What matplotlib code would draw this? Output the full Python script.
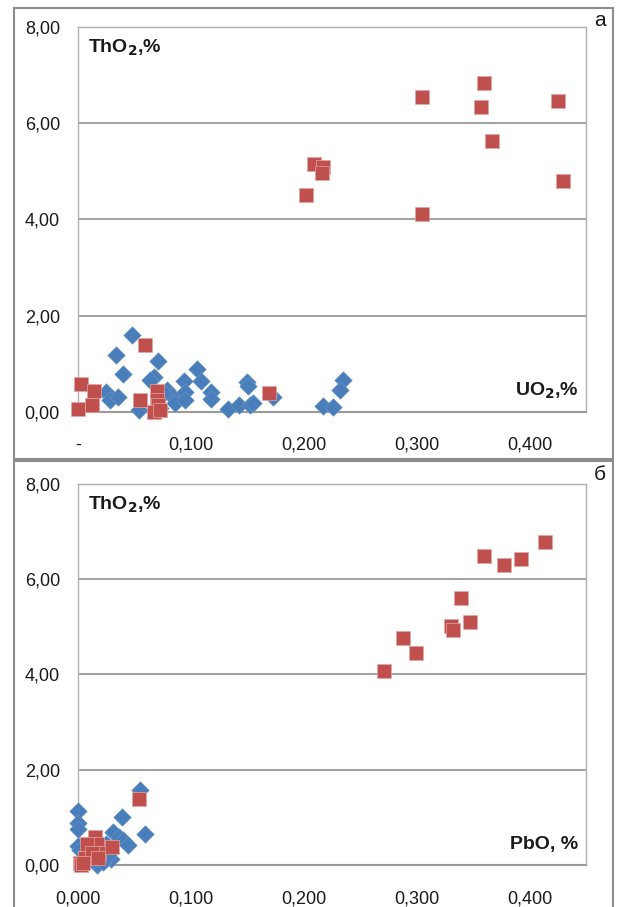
import numpy as np
import matplotlib.pyplot as plt
from matplotlib.patches import Rectangle

plt.rcParams['font.family'] = ['Liberation Sans', 'DejaVu Sans']

# panel а: UO2 vs ThO2
uo2_blue = [0.048, 0.034, 0.071, 0.040, 0.105, 0.067, 0.064, 0.094, 0.109, 0.150,
            0.151, 0.235, 0.232, 0.025, 0.028, 0.035, 0.079, 0.083, 0.086, 0.095,
            0.095, 0.118, 0.118, 0.133, 0.143, 0.152, 0.155, 0.173, 0.217, 0.226,
            0.054, 0.073, 0.076]
tho2_blue_a = [1.59, 1.17, 1.05, 0.79, 0.89, 0.72, 0.66, 0.63, 0.64, 0.62,
               0.54, 0.65, 0.45, 0.42, 0.25, 0.30, 0.45, 0.33, 0.19, 0.42,
               0.25, 0.40, 0.26, 0.05, 0.14, 0.14, 0.19, 0.31, 0.12, 0.10,
               0.03, 0.08, 0.39]
uo2_red = [0.305, 0.360, 0.357, 0.425, 0.367, 0.430, 0.305, 0.209, 0.217, 0.216, 0.202,
           0.059, 0.003, 0.014, 0.012, 0.0003, 0.055, 0.070, 0.070, 0.071, 0.067, 0.073, 0.169]
tho2_red_a = [6.54, 6.84, 6.34, 6.47, 5.63, 4.80, 4.12, 5.15, 5.08, 4.97, 4.50,
              1.38, 0.58, 0.43, 0.14, 0.05, 0.25, 0.44, 0.25, 0.14, 0.00, 0.04, 0.38]

# panel б: PbO vs ThO2
pbo_blue = [0.055, 0.000, 0.039, 0.000, 0.000, 0.059, 0.031, 0.036, 0.040, 0.044,
            0.000, 0.029, 0.017, 0.022, 0.009, 0.002, 0.012, 0.006, 0.020, 0.025,
            0.014, 0.004, 0.027, 0.010]
tho2_blue_b = [1.57, 1.14, 1.01, 0.89, 0.75, 0.65, 0.70, 0.59, 0.52, 0.42,
               0.40, 0.12, 0.00, 0.07, 0.19, 0.31, 0.30, 0.26, 0.35, 0.45,
               0.10, 0.05, 0.22, 0.40]
pbo_red = [0.414, 0.360, 0.377, 0.392, 0.339, 0.330, 0.332, 0.347, 0.288, 0.299, 0.271,
           0.054, 0.015, 0.017, 0.006, 0.002, 0.019, 0.008, 0.012, 0.018, 0.003, 0.004, 0.030]
tho2_red_b = [6.78, 6.49, 6.29, 6.42, 5.59, 5.02, 4.93, 5.09, 4.76, 4.45, 4.07,
              1.38, 0.58, 0.43, 0.14, 0.05, 0.25, 0.44, 0.25, 0.14, 0.00, 0.04, 0.38]

x_ticks = [0.0, 0.1, 0.2, 0.3, 0.4]
x_labels_a = ['-', '0,100', '0,200', '0,300', '0,400']
x_labels_b = ['0,000', '0,100', '0,200', '0,300', '0,400']
y_ticks = [0, 2, 4, 6, 8]
y_labels = ['0,00', '2,00', '4,00', '6,00', '8,00']

BLUE = '#4a7ebb'
RED = '#c0504d'
GRID = '#9a9a9a'

W, H = 620, 907
fig = plt.figure(figsize=(W / 100, H / 100), dpi=100)

def px_box(x0, y0, x1, y1):
    return [x0 / W, 1 - y1 / H, (x1 - x0) / W, (y1 - y0) / H]

# outer chart frames
for (fy0, fy1) in [(8, 459), (461, 912)]:
    fig.patches.append(Rectangle((14 / W, 1 - fy1 / H), (613 - 14) / W, (fy1 - fy0) / H,
                                 transform=fig.transFigure, fill=False,
                                 edgecolor='#8c8c8c', linewidth=1.5))

def panel(box, xb, yb, xr, yr, xlabels, xtitle, letter, ly):
    ax = fig.add_axes(px_box(*box))
    ax.scatter(xb, yb, marker='D', s=80, color=BLUE, edgecolors='#6d97cc',
               linewidths=0.4, zorder=3, clip_on=False)
    ax.scatter(xr, yr, marker='s', s=95, color=RED, edgecolors='#e3a5a3',
               linewidths=0.5, zorder=4, clip_on=False)
    ax.set_xlim(0, 0.45)
    ax.set_ylim(0, 8)
    ax.set_xticks(x_ticks)
    ax.set_xticklabels(xlabels)
    ax.set_yticks(y_ticks)
    ax.set_yticklabels(y_labels)
    ax.tick_params(length=0, labelsize=13, colors='#1a1a1a')
    ax.tick_params(axis='x', pad=18)
    ax.tick_params(axis='y', pad=13)
    for yv in y_ticks[1:]:
        ax.axhline(yv, color=GRID, linewidth=1.3, zorder=1)
    for s in ax.spines.values():
        s.set_color('#b0b0b0')
        s.set_linewidth(1.0)
    ax.spines['bottom'].set_color(GRID)
    ax.spines['bottom'].set_linewidth(1.5)
    ax.text(0.02, 0.945, r'ThO$_\mathbf{2}$,%', transform=ax.transAxes,
            fontsize=14, fontweight='bold', ha='left', va='center', color='#1a1a1a')
    ax.text(0.985, xtitle[1], xtitle[0], transform=ax.transAxes,
            fontsize=14, fontweight='bold', ha='right', va='center', color='#1a1a1a')
    fig.text(600 / W, 1 - ly / H, letter, fontsize=15, ha='center', va='center',
             color='#1a1a1a')
    return ax

panel((78, 27, 586, 411.7), uo2_blue, tho2_blue_a, uo2_red, tho2_red_a,
      x_labels_a, (r'UO$_\mathbf{2}$,%', 0.055), 'а', 20)
panel((78, 483.6, 586, 865), pbo_blue, tho2_blue_b, pbo_red, tho2_red_b,
      x_labels_b, ('PbO, %', 0.055), 'б', 474)

fig.savefig('out.png', dpi=100)
